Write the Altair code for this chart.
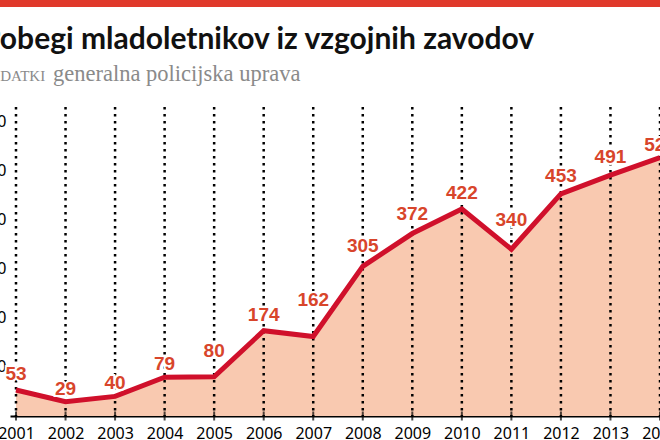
import altair as alt
import pandas as pd

years = [2001, 2002, 2003, 2004, 2005, 2006, 2007, 2008, 2009, 2010, 2011, 2012, 2013, 2014]
values = [53, 29, 40, 79, 80, 174, 162, 305, 372, 422, 340, 453, 491, 527]
y_ticks = [100, 200, 300, 400, 500, 600]

title_text = "Pobegi mladoletnikov iz vzgojnih zavodov"
source_label = "PODATKI"
source_text = "generalna policijska uprava"

df = pd.DataFrame({"year": years, "value": values})

W, H = 650, 309

x = alt.X("year:Q", scale=alt.Scale(domain=[2000.879, 2014], nice=False, zero=False),
          axis=alt.Axis(values=years, format="d", title=None, grid=False, tickSize=0,
                        domainColor="black", domainWidth=2, labelColor="black",
                        labelFont="Noto Sans", labelFontSize=16, labelPadding=9,
                        labelFlush=False))
y = alt.Y("value:Q", scale=alt.Scale(domain=[0, 630], nice=False),
          axis=alt.Axis(values=y_ticks, title=None, grid=False, tickSize=0, domain=False,
                        labelColor="black", labelFont="Noto Sans", labelFontSize=16,
                        labelPadding=4))

base = alt.Chart(df)

area = base.mark_area(color="#f9c9b0", opacity=1).encode(x=x, y=y)
rules = base.mark_rule(color="black", strokeWidth=2.5, strokeDash=[2.5, 4.5]).encode(x="year:Q")
ticks = base.mark_tick(color="black", thickness=2, size=9, orient="vertical").encode(
    x="year:Q", y=alt.value(H))
line = base.mark_line(color="#d0102b", strokeWidth=5, strokeJoin="miter").encode(x="year:Q", y="value:Q")

# label placement groups (vertical gap above the point, in px)
label_groups = [
    (-7, [2002, 2003, 2004, 2014]),
    (-10, [2001, 2006, 2010]),
    (-12, [2012, 2013]),
    (-14, [2008, 2009]),
    (-20, [2005]),
    (-23, [2011]),
    (-31, [2007]),
]
label_layers = []
for dy, ys in label_groups:
    sub = base.transform_filter(alt.FieldOneOfPredicate(field="year", oneOf=ys))
    label_layers.append(sub.mark_text(color="white", stroke="white", strokeWidth=4,
                                      font="Liberation Sans", fontWeight="bold", fontSize=19,
                                      dy=dy, baseline="alphabetic").encode(
        x="year:Q", y="value:Q", text="value:Q"))
for dy, ys in label_groups:
    sub = base.transform_filter(alt.FieldOneOfPredicate(field="year", oneOf=ys))
    label_layers.append(sub.mark_text(color="#d8452b", font="Liberation Sans", fontWeight="bold",
                                      fontSize=19, dy=dy, baseline="alphabetic").encode(
        x="year:Q", y="value:Q", text="value:Q"))

one = pd.DataFrame({"t": [0]})
bar = alt.Chart(one).mark_rect(color="#e0392b").encode(
    x=alt.value(-10), x2=alt.value(W), y=alt.value(-107), y2=alt.value(-100))
title = alt.Chart(one).mark_text(text=title_text, font="Lato", fontWeight="bold", fontSize=30,
                                 color="#111111", align="left", baseline="alphabetic").encode(
    x=alt.value(-28), y=alt.value(-58))
src1 = alt.Chart(one).mark_text(text=source_label, font="Liberation Serif", fontSize=15,
                                color="#8a8a8a", align="left", baseline="alphabetic").encode(
    x=alt.value(-29), y=alt.value(-26))
src2 = alt.Chart(one).mark_text(text=source_text, font="Liberation Serif", fontSize=22.5,
                                color="#8a8a8a", align="left", baseline="alphabetic").encode(
    x=alt.value(43), y=alt.value(-26))

chart = alt.layer(area, rules, ticks, line, *label_layers, bar, title, src1, src2).properties(
    width=W, height=H,
    padding={"left": 10, "top": 107, "right": 0, "bottom": 24},
    autosize=alt.AutoSizeParams(type="none"),
    background="white",
).configure_view(stroke=None)

chart.save("out.html", embed_options={"renderer": "svg", "actions": False})
